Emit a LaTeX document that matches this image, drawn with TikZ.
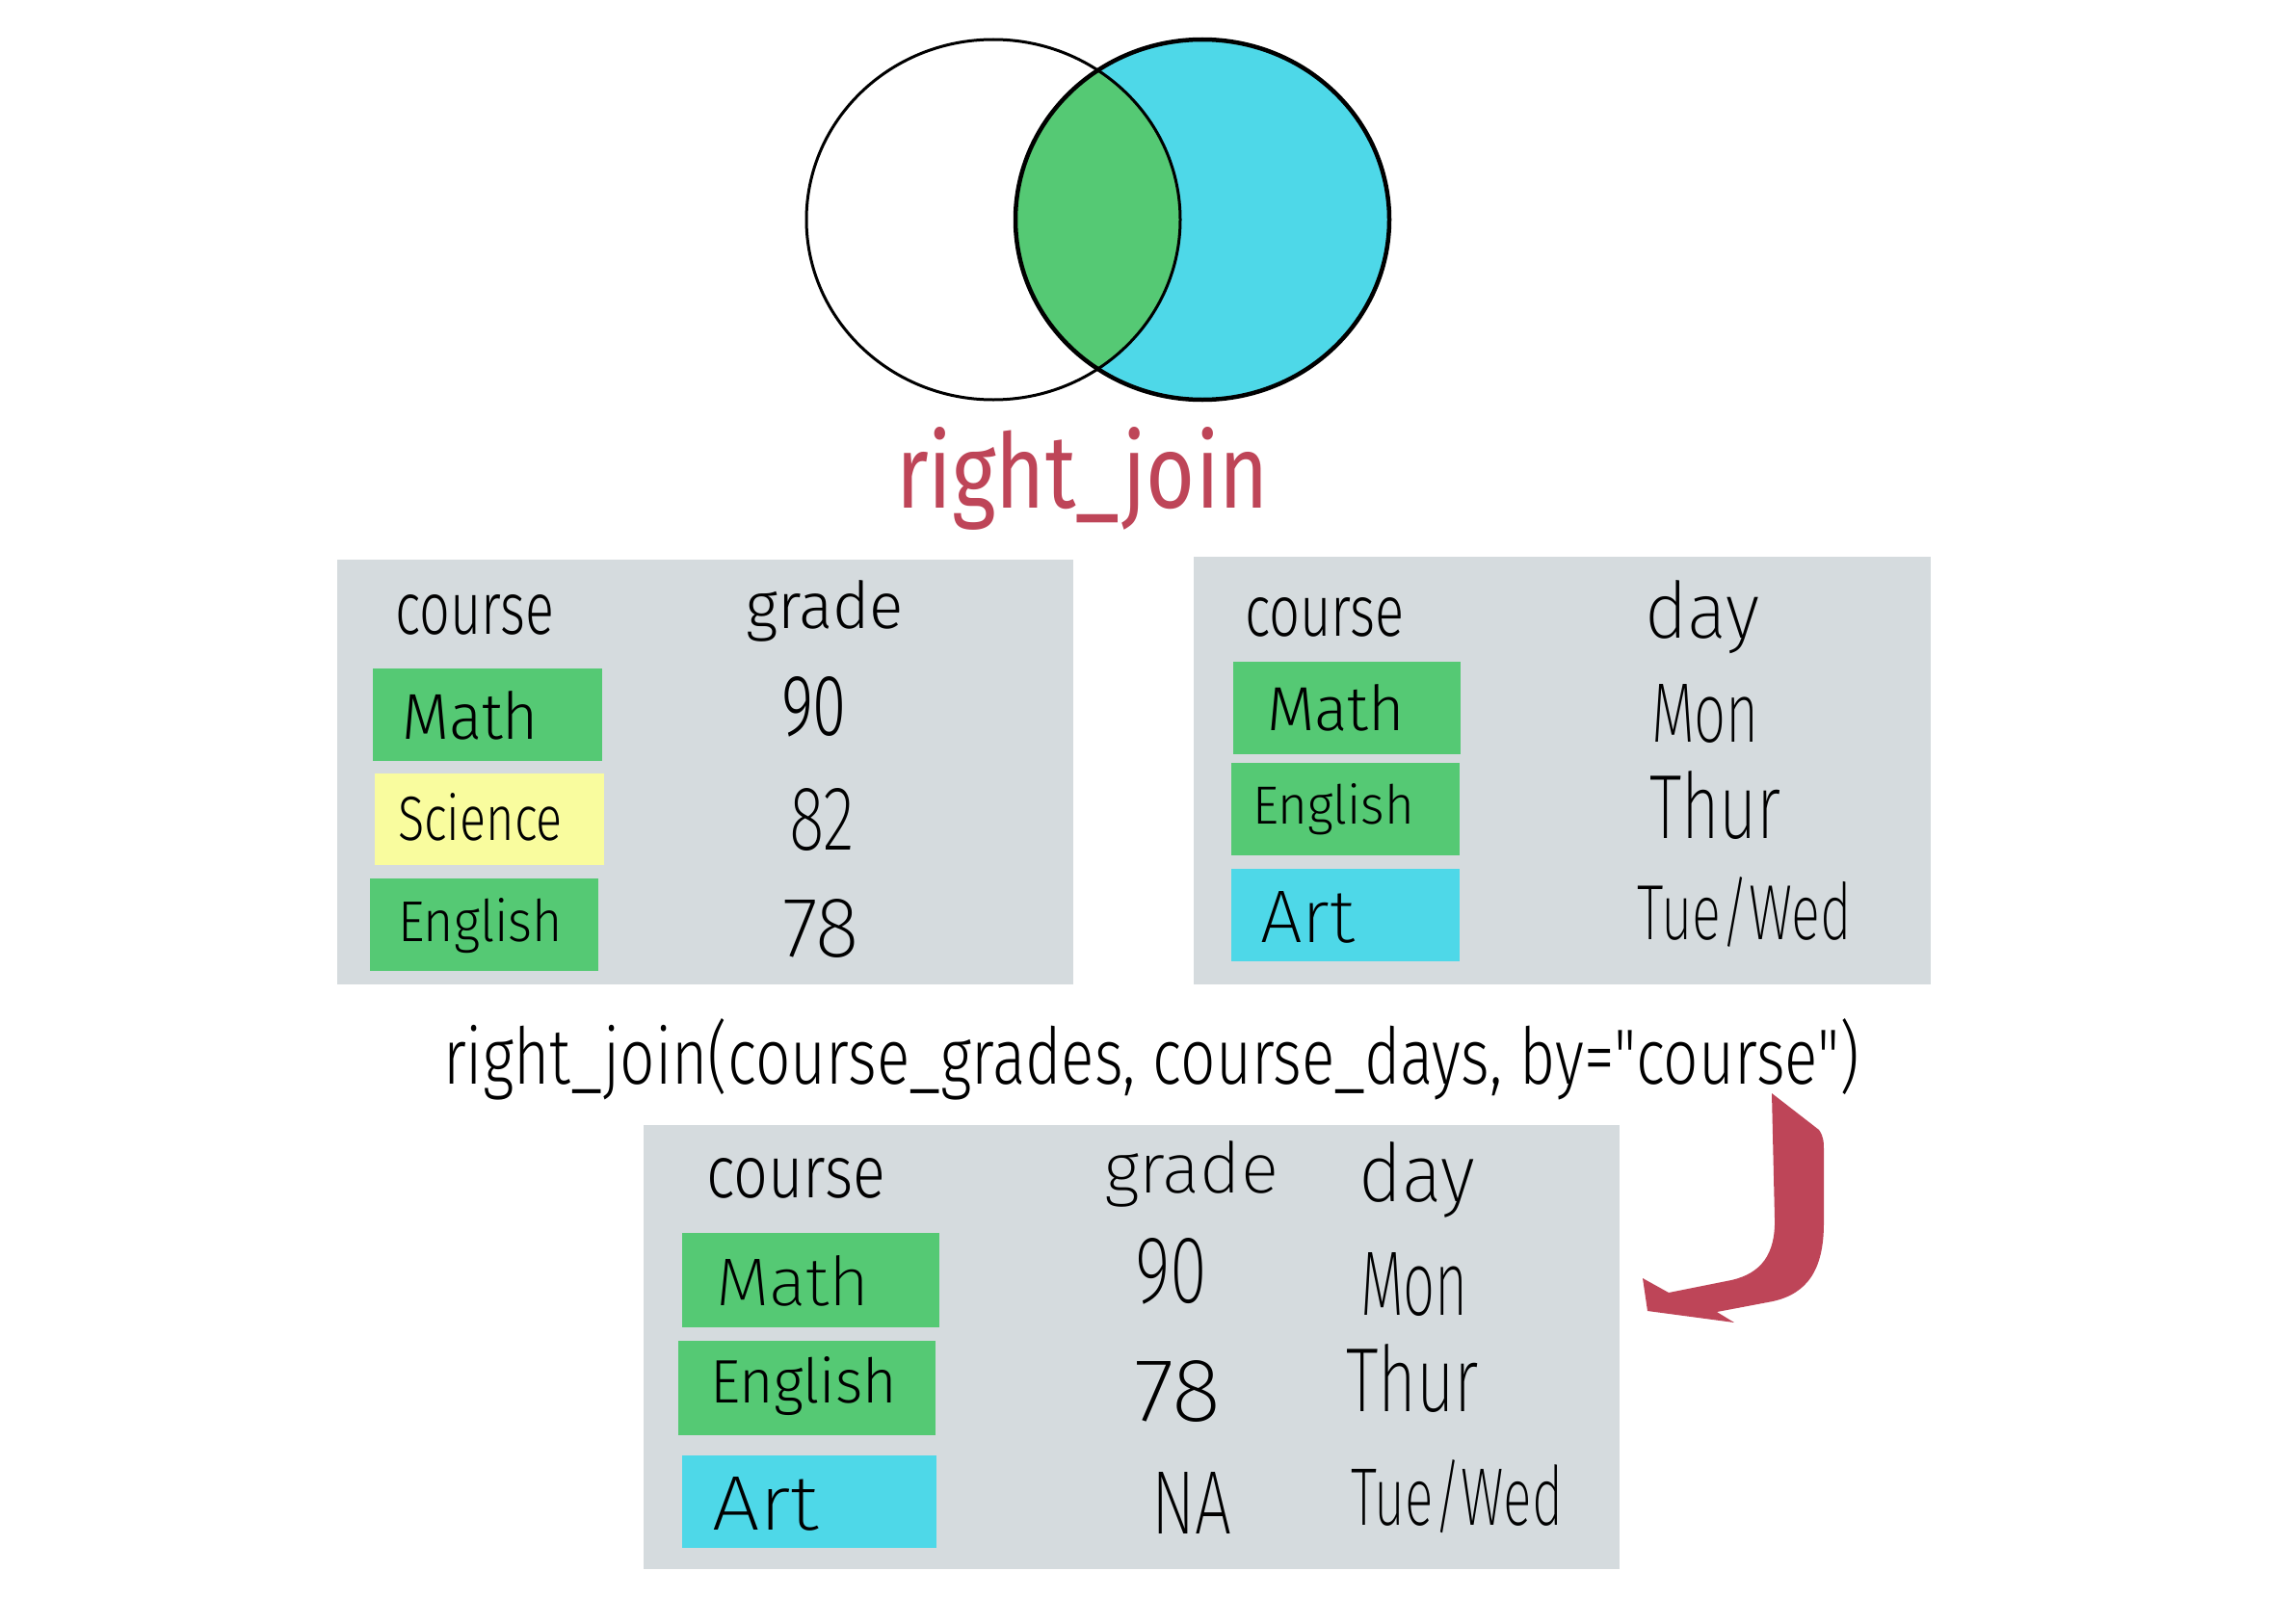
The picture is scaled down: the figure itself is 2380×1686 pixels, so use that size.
\documentclass[tikz,border=0pt]{standalone}
\usepackage{fontspec}
\newfontfamily\hand{Fira Sans Light}
\newfontfamily\handx{Fira Sans ExtraLight}
\newfontfamily\handr{Fira Sans}
\usepackage{graphicx}
\definecolor{grn}{HTML}{55C974}
\definecolor{cyn}{HTML}{4ED8E8}
\definecolor{gry}{HTML}{D5DBDE}
\definecolor{ylw}{HTML}{F9FC9E}
\definecolor{rd}{HTML}{BE4558}
\newcommand\hw[3]{\resizebox{#1pt}{#2pt}{#3}}
\tikzset{
  lbl/.style={inner sep=0pt, outer sep=0pt, anchor=base west, font=\hand\fontsize{60}{60}\selectfont},
  lblx/.style={lbl, font=\handx\fontsize{60}{60}\selectfont},
  rectn/.style={draw=none, inner sep=0pt, outer sep=0pt, anchor=north west},
  panel/.style={rectn, fill=gry},
}
\begin{document}
\begin{tikzpicture}[x=1pt,y=-1pt]
\useasboundingbox[fill=white] (0,0) rectangle (2380,1686);

% Venn diagram
\fill[cyn] (1248,228) ellipse [x radius=194, y radius=187];
\begin{scope}
  \clip (1031,228) ellipse [x radius=194, y radius=187];
  \fill[grn] (1248,228) ellipse [x radius=194, y radius=187];
\end{scope}
\draw[line width=3pt] (1031,228) ellipse [x radius=194, y radius=187];
\draw[line width=4.5pt] (1248,228) ellipse [x radius=194, y radius=187];

% title
\node[lbl, text=rd, font=\handr\fontsize{60}{60}\selectfont] (title) at (930,527) {\hw{387}{84}{right\_join}};

% table 1: course_grades
\node[panel, minimum width=764pt, minimum height=441pt] (tab1) at (350,581) {};
\node[rectn, fill=grn, minimum width=238pt, minimum height=96pt] (t1c1) at (387,694) {};
\node[rectn, fill=ylw, minimum width=238pt, minimum height=95pt] (t1c2) at (389,803) {};
\node[rectn, fill=grn, minimum width=237pt, minimum height=96pt] (t1c3) at (384,912) {};
\node[lbl] (t1h1) at (410,658) {\hw{165}{41}{course}};
\node[lbl] (t1h2) at (774,652) {\hw{164}{50}{grade}};
\node[lbl] (t1a1) at (417,767) {\hw{142}{50}{Math}};
\node[lbl] (t1a2) at (413,872) {\hw{171}{49}{Science}};
\node[lbl] (t1a3) at (413,977) {\hw{171}{45}{English}};
\node[lbl] (t1b1) at (811,763) {\hw{68}{61}{90}};
\node[lblx] (t1b2) at (819,882) {\hw{68}{64}{82}};
\node[lblx] (t1b3) at (812,993) {\hw{80}{60}{78}};

% table 2: course_days
\node[panel, minimum width=765pt, minimum height=444pt] (tab2) at (1239,578) {};
\node[rectn, fill=grn, minimum width=236pt, minimum height=96pt] (t2c1) at (1280,687) {};
\node[rectn, fill=grn, minimum width=237pt, minimum height=96pt] (t2c2) at (1278,792) {};
\node[rectn, fill=cyn, minimum width=237pt, minimum height=96pt] (t2c3) at (1278,902) {};
\node[lbl] (t2h1) at (1292,660) {\hw{166}{40}{course}};
\node[lblx] (t2h2) at (1707,662) {\hw{119}{60}{day}};
\node[lbl] (t2a1) at (1315,758) {\hw{143}{48}{Math}};
\node[lbl] (t2a2) at (1300,855) {\hw{168}{42}{English}};
\node[lblx] (t2a3) at (1308,978) {\hw{98}{53}{Art}};
\node[lblx] (t2b1) at (1714,770) {\hw{112}{60}{Mon}};
\node[lblx] (t2b2) at (1712,870) {\hw{137}{70}{Thur}};
\node[lblx] (t2b3) at (1699,975) {\hw{223}{65}{Tue/Wed}};

% function call
\node[lbl] (call) at (460,1125) {\hw{1470}{68}{right\_join(course\_grades, course\_days, by="course")}};

% table 3: result
\node[panel, minimum width=1013pt, minimum height=461pt] (tab3) at (668,1168) {};
\node[rectn, fill=grn, minimum width=267pt, minimum height=98pt] (t3c1) at (708,1280) {};
\node[rectn, fill=grn, minimum width=267pt, minimum height=98pt] (t3c2) at (704,1392) {};
\node[rectn, fill=cyn, minimum width=264pt, minimum height=96pt] (t3c3) at (708,1511) {};
\node[lbl] (t3h1) at (733,1243) {\hw{186}{41}{course}};
\node[lblx] (t3h2) at (1146,1238) {\hw{181}{54}{grade}};
\node[lblx] (t3h3) at (1410,1247) {\hw{121}{62}{day}};
\node[lblx] (t3a1) at (743,1355) {\hw{160}{52}{Math}};
\node[lbl] (t3a2) at (737,1456) {\hw{194}{48}{English}};
\node[lblx] (t3a3) at (739,1588) {\hw{111}{55}{Art}};
\node[lblx] (t3b1) at (1178,1352) {\hw{75}{67}{90}};
\node[lblx] (t3b2) at (1177,1475) {\hw{90}{63}{78}};
\node[lblx] (t3b3) at (1195,1592) {\hw{83}{64}{NA}};
\node[lblx] (t3d1) at (1412,1365) {\hw{112}{65}{Mon}};
\node[lblx] (t3d2) at (1397,1465) {\hw{138}{70}{Thur}};
\node[lblx] (t3d3) at (1402,1583) {\hw{220}{68}{Tue/Wed}};

% curved arrow
\fill[rd] (1839,1135) -- (1888,1173)
  .. controls (1893,1180) and (1893,1186) .. (1893,1196)
  -- (1893,1270)
  .. controls (1893,1318) and (1876,1343) .. (1840,1351)
  -- (1782,1362) -- (1800,1373) -- (1710,1361) -- (1705,1327) -- (1732,1342)
  -- (1797,1329)
  .. controls (1828,1322) and (1843,1302) .. (1842,1265)
  -- cycle;
\end{tikzpicture}
\end{document}
